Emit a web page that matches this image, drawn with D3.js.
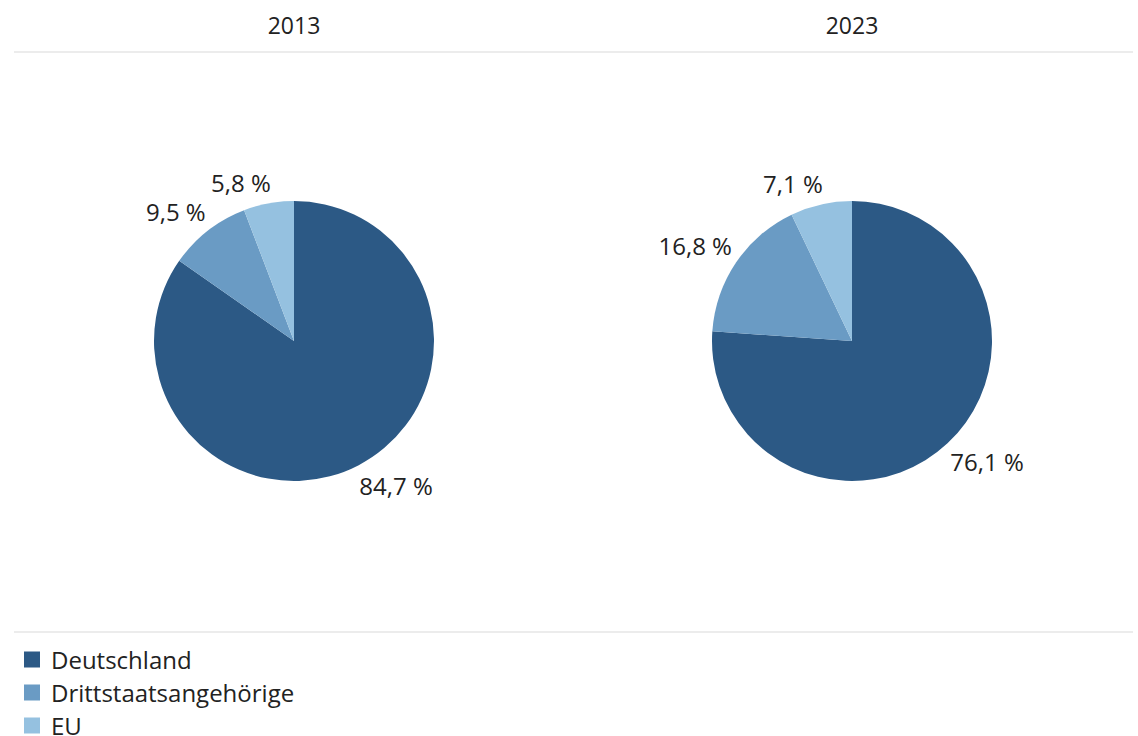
<!DOCTYPE html>
<html><head><meta charset="utf-8">
<script src="https://cdn.jsdelivr.net/npm/d3@7"></script>
<style>body{margin:0;background:#fff;}svg{display:block;font-family:"Open Sans",sans-serif;}</style>
</head><body>
<svg id="c" width="1138" height="736"></svg>
<script>
const categories = ["Deutschland", "Drittstaatsangehörige", "EU"];
const years = ["2013", "2023"];
const values2013 = [84.7, 9.5, 5.8];
const values2023 = [76.1, 16.8, 7.1];
const colors = ["#2c5985", "#6a9bc4", "#95c1e0"];

const series = [values2013, values2023];
const svg = d3.select("#c");
const color = d3.scaleOrdinal().domain(categories).range(colors);
const xPos = d3.scalePoint().domain(years).range([294, 852]);
const cy = 341, r = 140;

// header
svg.selectAll("text.title").data(years).enter().append("text")
  .attr("x", d => xPos(d)).attr("y", 25)
  .attr("text-anchor", "middle").attr("dominant-baseline", "central")
  .attr("font-size", 23).attr("fill", "#222").text(d => d);
svg.append("line").attr("x1", 14).attr("x2", 1133).attr("y1", 52).attr("y2", 52)
  .attr("stroke", "#d9d9d9").attr("stroke-width", 1.2);
svg.append("line").attr("x1", 14).attr("x2", 1133).attr("y1", 632).attr("y2", 632)
  .attr("stroke", "#d9d9d9").attr("stroke-width", 1.2);

const pie = d3.pie().sort(null).value(d => d.v);
const arc = d3.arc().innerRadius(0).outerRadius(r);
const fmt = v => d3.format(".1f")(v).replace(".", ",") + " %";

years.forEach((y, i) => {
  const data = categories.map((c, j) => ({ c, v: series[i][j] }));
  const arcs = pie(data);
  const g = svg.append("g").attr("transform", `translate(${xPos(y)},${cy})`);
  g.selectAll("path").data(arcs).enter().append("path")
    .attr("d", arc).attr("fill", d => color(d.data.c));
  g.selectAll("text").data(arcs).enter().append("text")
    .each(function(d) {
      const a = (d.startAngle + d.endAngle) / 2;
      const sx = Math.sin(a), sy = -Math.cos(a);
      const R = r + 10;
      const px = R * sx, py = R * sy;
      d3.select(this)
       .attr("x", px + (sx >= 0 ? -4 : 4))
       .attr("y", py + (sy >= 0 ? 11 : -11))
       .attr("text-anchor", sx >= 0 ? "start" : "end");
    })
    .attr("dominant-baseline", "central")
    .attr("font-size", 24).attr("fill", "#222")
    .text(d => fmt(d.data.v));
});

// legend
const lg = svg.append("g");
const rowY = d3.scaleBand().domain(categories).range([643, 742]);
categories.forEach(c => {
  const yy = rowY(c) + rowY.bandwidth() / 2;
  lg.append("rect").attr("x", 24).attr("y", yy - 8).attr("width", 16).attr("height", 16)
    .attr("fill", color(c));
  lg.append("text").attr("x", 51).attr("y", yy).attr("dominant-baseline", "central")
    .attr("font-size", 24).attr("fill", "#222").text(c);
});
</script>
</body></html>
